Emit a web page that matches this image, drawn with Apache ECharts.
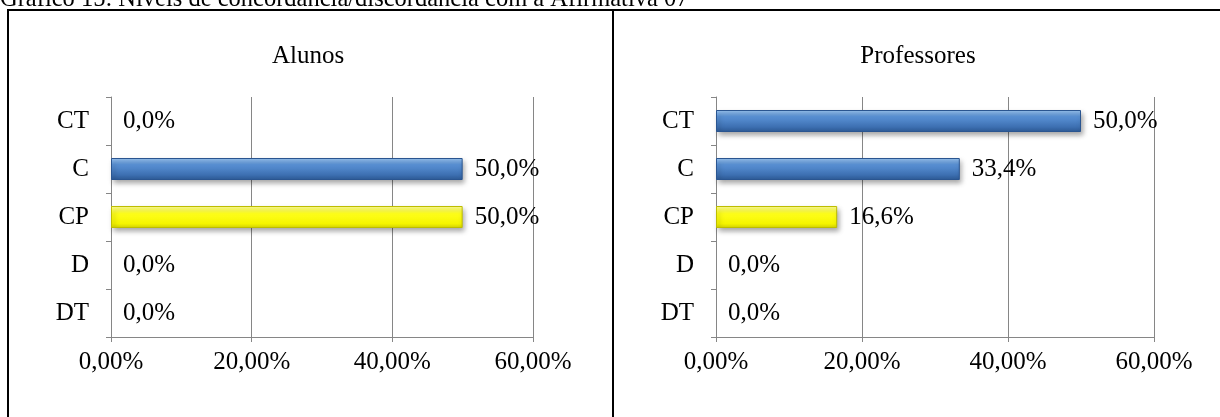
<!DOCTYPE html>
<html>
<head>
<meta charset="utf-8">
<script src="https://cdn.jsdelivr.net/npm/echarts@6/dist/echarts.min.js"></script>
<style>
  html, body { margin: 0; padding: 0; background: #fff; }
  #chart { width: 1220px; height: 417px; }
</style>
</head>
<body>
<div id="chart"></div>
<script>
// Agreement levels, top to bottom
const categories = ['CT', 'C', 'CP', 'D', 'DT'];
// Percentages per group
const alunosValues = [0, 50, 50, 0, 0];
const professoresValues = [50, 33.4, 16.6, 0, 0];
// Bar colour key per category
const barKinds = ['blue', 'blue', 'yellow', 'blue', 'blue'];
// Axis ticks (percent)
const axisMin = 0, axisMax = 60, axisStep = 20;
const panelTitles = ['Alunos', 'Professores'];
const captionText = 'Gráfico 15: Níveis de concordância/discordância com a Afirmativa 07';

const FONT = '"Liberation Serif", "Times New Roman", serif';
const FS = 25;
const GREY = '#868686';

const fills = {
  blue: {
    color: new echarts.graphic.LinearGradient(0, 0, 0, 1, [
      { offset: 0, color: '#9cc6f2' },
      { offset: 0.3, color: '#5a92d6' },
      { offset: 0.75, color: '#3e71b3' },
      { offset: 1, color: '#2d5a96' }
    ]),
    borderColor: '#2a5590'
  },
  yellow: {
    color: new echarts.graphic.LinearGradient(0, 0, 0, 1, [
      { offset: 0, color: '#ffff9a' },
      { offset: 0.35, color: '#ffff1a' },
      { offset: 0.8, color: '#f5f500' },
      { offset: 1, color: '#d4d400' }
    ]),
    borderColor: '#bdbd00'
  }
};

function pct(v, digits) {
  return v.toFixed(digits).replace('.', ',') + '%';
}

function barData(values) {
  return values.map((v, i) => ({
    value: v,
    itemStyle: v > 0 ? {
      color: fills[barKinds[i]].color,
      borderColor: fills[barKinds[i]].borderColor,
      borderWidth: 1,
      shadowColor: 'rgba(0,0,0,0.35)',
      shadowBlur: 5,
      shadowOffsetX: 2,
      shadowOffsetY: 3
    } : { color: 'transparent', borderWidth: 0 }
  }));
}

const grids = [
  { left: 111, top: 97, width: 422, height: 240 },
  { left: 716, top: 97, width: 438, height: 240 }
];

const chart = echarts.init(document.getElementById('chart'), null, { renderer: 'canvas' });

const titleStyle = { fontFamily: FONT, fontSize: FS, fontWeight: 'normal', color: '#000' };

const option = {
  backgroundColor: '#fff',
  animation: false,
  textStyle: { fontFamily: FONT },
  title: [
    { text: panelTitles[0], left: 303, top: 39, textAlign: 'center', textStyle: titleStyle },
    { text: panelTitles[1], left: 913, top: 39, textAlign: 'center', textStyle: titleStyle }
  ],
  grid: grids.map(g => Object.assign({ containLabel: false }, g)),
  xAxis: [0, 1].map(i => ({
    type: 'value',
    gridIndex: i,
    min: axisMin,
    max: axisMax,
    interval: axisStep,
    axisLine: { show: true, lineStyle: { color: GREY, width: 1 } },
    axisTick: { show: true, length: 5, lineStyle: { color: GREY } },
    splitLine: { show: true, lineStyle: { color: GREY, width: 1 } },
    axisLabel: {
      margin: 13,
      fontFamily: FONT,
      fontSize: FS,
      color: '#000',
      formatter: v => pct(v, 2)
    }
  })),
  yAxis: [0, 1].map(i => ({
    type: 'category',
    gridIndex: i,
    data: categories,
    inverse: true,
    axisLine: { show: true, lineStyle: { color: GREY, width: 1 } },
    axisTick: { show: true, length: 5, inside: false, lineStyle: { color: GREY } },
    splitLine: { show: false },
    axisLabel: {
      margin: 22,
      fontFamily: FONT,
      fontSize: FS,
      color: '#000'
    }
  })),
  series: [alunosValues, professoresValues].map((vals, i) => ({
    type: 'bar',
    xAxisIndex: i,
    yAxisIndex: i,
    data: barData(vals),
    barWidth: 22,
    label: {
      show: true,
      position: 'right',
      distance: 12,
      fontFamily: FONT,
      fontSize: FS,
      color: '#000',
      formatter: p => pct(p.value, 1)
    }
  })),
  graphic: [
    // caption (partly above the page edge)
    { type: 'text', left: 0, top: -13, z: 10,
      style: { text: captionText, font: '24.5px ' + FONT, fill: '#000' } },
    // frames around the two panels
    { type: 'line', z: 10, shape: { x1: 7, y1: 10, x2: 1220, y2: 10 },
      style: { stroke: '#000', lineWidth: 2 } },
    { type: 'line', z: 10, shape: { x1: 8, y1: 10, x2: 8, y2: 417 },
      style: { stroke: '#000', lineWidth: 2 } },
    { type: 'line', z: 10, shape: { x1: 613, y1: 10, x2: 613, y2: 417 },
      style: { stroke: '#000', lineWidth: 2 } }
  ]
};

chart.setOption(option);
</script>
</body>
</html>
